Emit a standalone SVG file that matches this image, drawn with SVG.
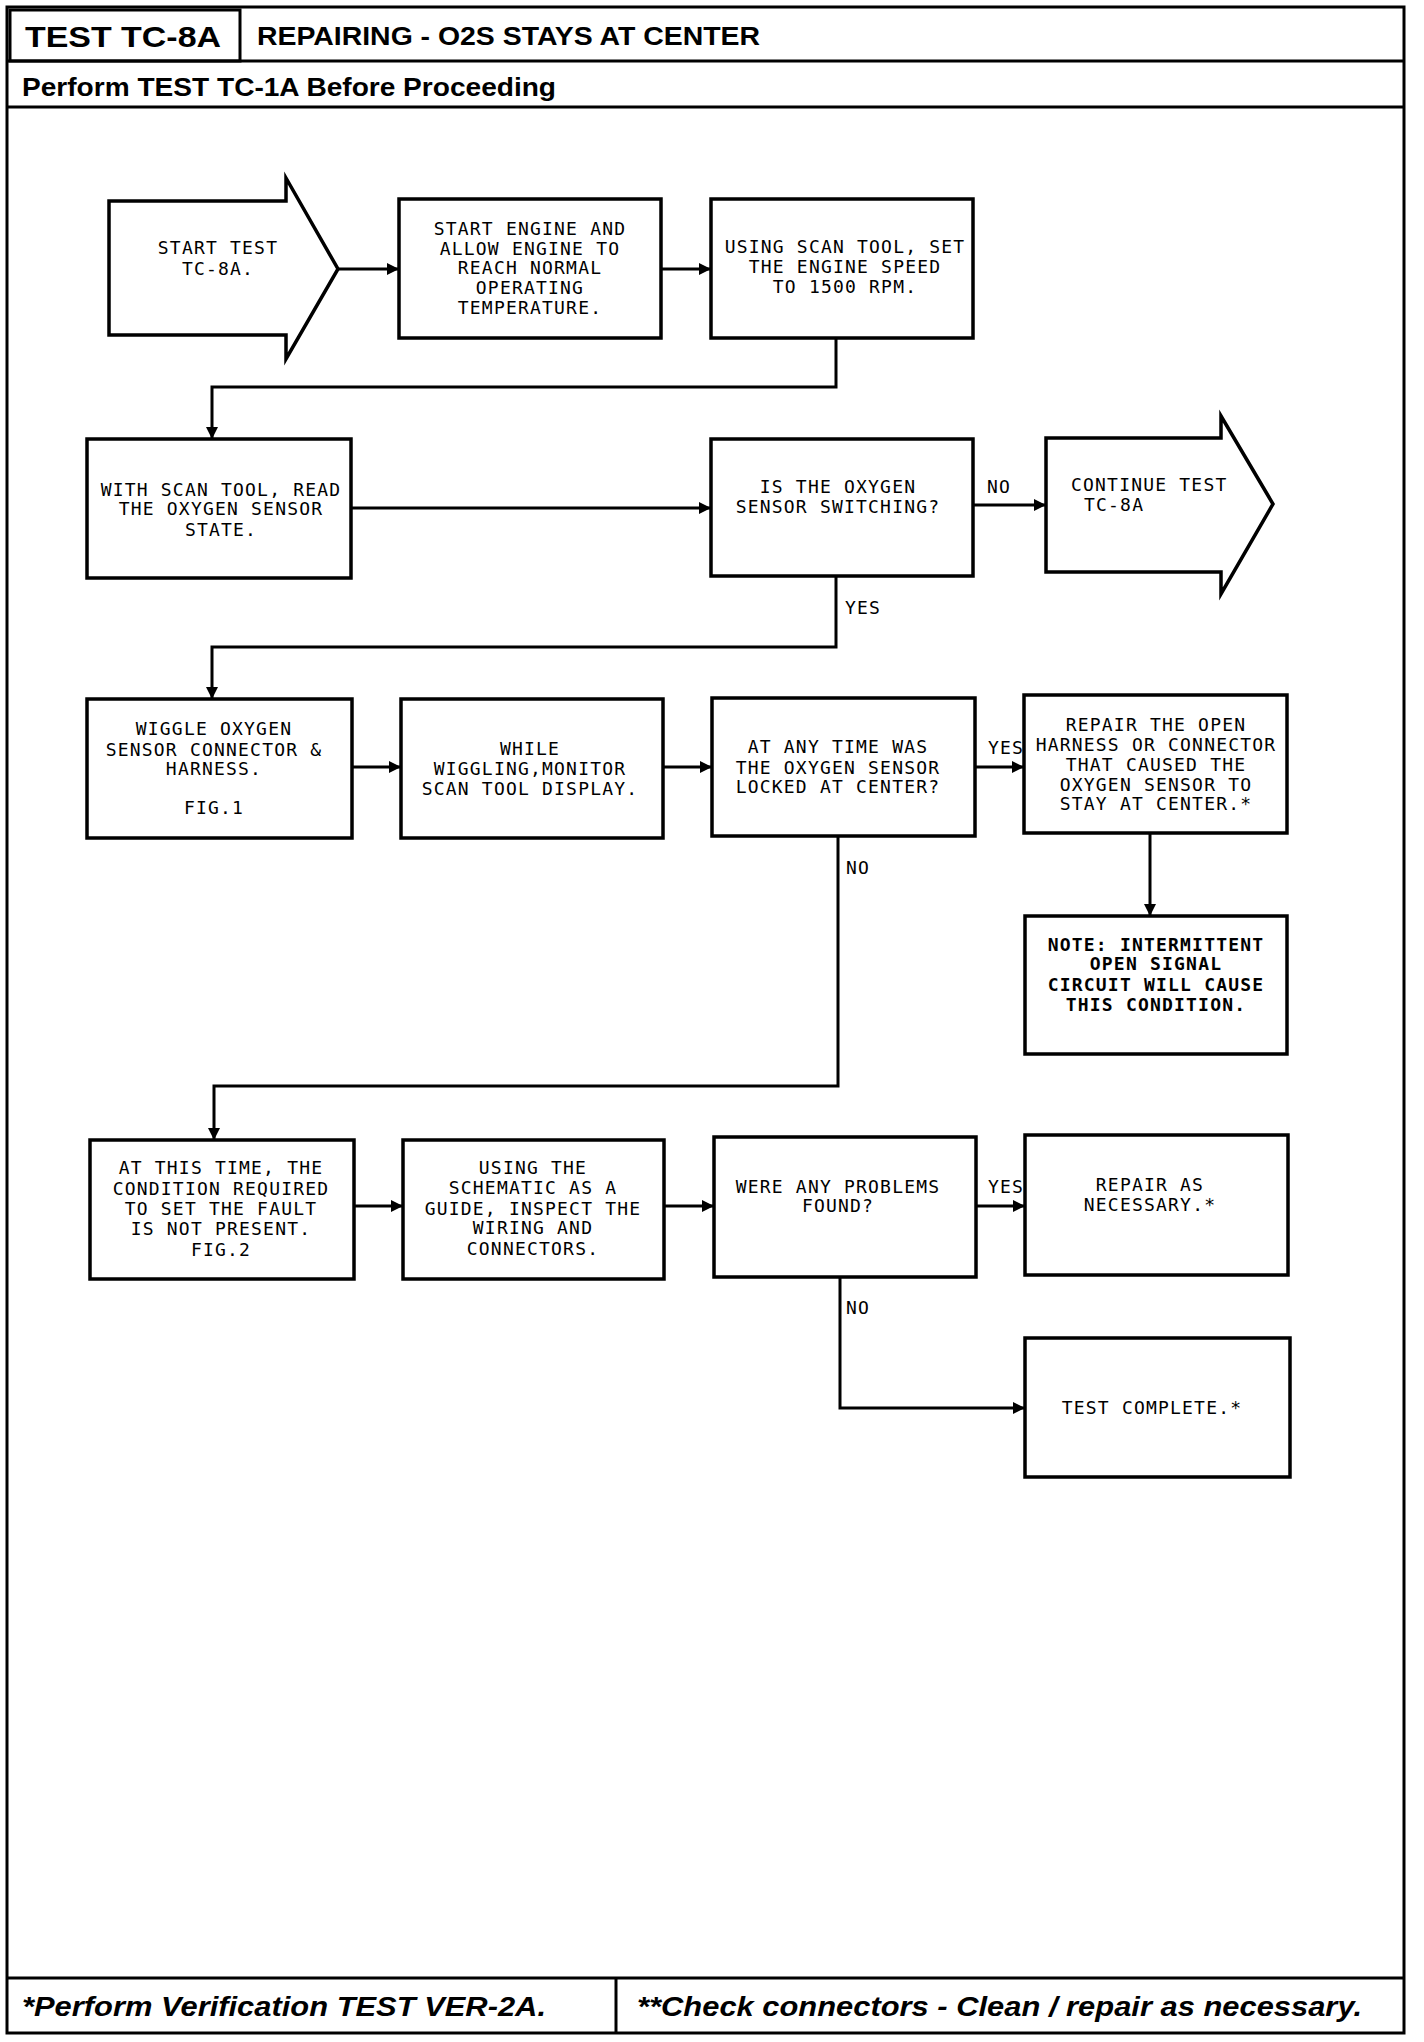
<svg xmlns="http://www.w3.org/2000/svg" width="1424" height="2042" viewBox="0 0 1424 2042">
<style>
.frame{fill:none;stroke:#000;stroke-width:3}
.box{fill:#fff;stroke:#000;stroke-width:3.5}
.con{fill:none;stroke:#000;stroke-width:3}
.t{font-family:"DejaVu Sans Mono","Liberation Mono",monospace;font-size:18px;letter-spacing:1.2px;fill:#000;text-anchor:middle}
.tb{font-family:"DejaVu Sans Mono","Liberation Mono",monospace;font-size:18px;letter-spacing:1.2px;font-weight:bold;fill:#000;text-anchor:middle}
.lbl{font-family:"DejaVu Sans Mono","Liberation Mono",monospace;font-size:18px;letter-spacing:1.2px;fill:#000}
.hd{font-family:"Liberation Sans",Arial,sans-serif;font-weight:bold;fill:#000}
.ft{font-family:"Liberation Sans",Arial,sans-serif;font-weight:bold;font-style:italic;fill:#000;font-size:27px}
</style>
<defs>
<marker id="ah" viewBox="0 0 10 10" refX="10" refY="5" markerWidth="4" markerHeight="4" orient="auto" markerUnits="strokeWidth">
<path d="M0,0 L10,5 L0,10 Z" fill="#000"/>
</marker>
</defs>
<rect width="1424" height="2042" fill="#fff"/>
<g id="frame">
<rect class="frame" x="7" y="7" width="1397" height="2026"/>
<rect class="frame" x="10" y="10" width="230" height="51"/>
<line class="frame" x1="7" y1="61" x2="1404" y2="61"/>
<line class="frame" x1="7" y1="107" x2="1404" y2="107"/>
<line class="frame" x1="7" y1="1978" x2="1404" y2="1978"/>
<line class="frame" x1="616" y1="1978" x2="616" y2="2033"/>
<text class="hd" x="25" y="47" font-size="30" textLength="196" lengthAdjust="spacingAndGlyphs">TEST TC-8A</text>
<text class="hd" x="257" y="45" font-size="25" textLength="503" lengthAdjust="spacingAndGlyphs">REPAIRING - O2S STAYS AT CENTER</text>
<text class="hd" x="22" y="96" font-size="25" textLength="534" lengthAdjust="spacingAndGlyphs">Perform TEST TC-1A Before Proceeding</text>
<text class="ft" x="22" y="2016" textLength="524" lengthAdjust="spacingAndGlyphs">*Perform Verification TEST VER-2A.</text>
<text class="ft" x="637" y="2016" textLength="725" lengthAdjust="spacingAndGlyphs">**Check connectors - Clean / repair as necessary.</text>
</g>
<g id="connectors">
<line class="con" x1="338" y1="269" x2="399" y2="269" marker-end="url(#ah)"/>
<line class="con" x1="661" y1="269" x2="711" y2="269" marker-end="url(#ah)"/>
<polyline class="con" points="836,338 836,387 212,387 212,439" marker-end="url(#ah)"/>
<line class="con" x1="351" y1="508" x2="711" y2="508" marker-end="url(#ah)"/>
<line class="con" x1="973" y1="505" x2="1046" y2="505" marker-end="url(#ah)"/>
<polyline class="con" points="836,576 836,647 212,647 212,699" marker-end="url(#ah)"/>
<line class="con" x1="352" y1="767" x2="401" y2="767" marker-end="url(#ah)"/>
<line class="con" x1="663" y1="767" x2="712" y2="767" marker-end="url(#ah)"/>
<line class="con" x1="975" y1="767" x2="1024" y2="767" marker-end="url(#ah)"/>
<line class="con" x1="1150" y1="833" x2="1150" y2="916" marker-end="url(#ah)"/>
<polyline class="con" points="838,836 838,1086 214,1086 214,1140" marker-end="url(#ah)"/>
<line class="con" x1="354" y1="1206" x2="403" y2="1206" marker-end="url(#ah)"/>
<line class="con" x1="664" y1="1206" x2="714" y2="1206" marker-end="url(#ah)"/>
<line class="con" x1="976" y1="1206" x2="1025" y2="1206" marker-end="url(#ah)"/>
<polyline class="con" points="840,1277 840,1408 1025,1408" marker-end="url(#ah)"/>
<text class="lbl" x="987" y="493">NO</text>
<text class="lbl" x="845" y="614">YES</text>
<text class="lbl" x="988" y="754">YES</text>
<text class="lbl" x="846" y="874">NO</text>
<text class="lbl" x="988" y="1193">YES</text>
<text class="lbl" x="846" y="1314">NO</text>
</g>
<g id="n1">
<polygon class="box" points="109,201 286,201 286,178 338,269 286,359 286,335 109,335"/>
<text class="t" x="218" y="254">START TEST</text>
<text class="t" x="218" y="275">TC-8A.</text>
</g>
<g id="n2">
<rect class="box" x="399" y="199" width="262" height="139"/>
<text class="t" x="530" y="235">START ENGINE AND</text>
<text class="t" x="530" y="255">ALLOW ENGINE TO</text>
<text class="t" x="530" y="274">REACH NORMAL</text>
<text class="t" x="530" y="294">OPERATING</text>
<text class="t" x="530" y="314">TEMPERATURE.</text>
</g>
<g id="n3">
<rect class="box" x="711" y="199" width="262" height="139"/>
<text class="t" x="845" y="253">USING SCAN TOOL, SET</text>
<text class="t" x="845" y="273">THE ENGINE SPEED</text>
<text class="t" x="845" y="293">TO 1500 RPM.</text>
</g>
<g id="n4">
<rect class="box" x="87" y="439" width="264" height="139"/>
<text class="t" x="221" y="496">WITH SCAN TOOL, READ</text>
<text class="t" x="221" y="515">THE OXYGEN SENSOR</text>
<text class="t" x="221" y="536">STATE.</text>
</g>
<g id="n5">
<rect class="box" x="711" y="439" width="262" height="137"/>
<text class="t" x="838" y="493">IS THE OXYGEN</text>
<text class="t" x="838" y="513">SENSOR SWITCHING?</text>
</g>
<g id="n6">
<polygon class="box" points="1046,438 1221,438 1221,416 1273,504 1221,594 1221,572 1046,572"/>
<text class="lbl" x="1071" y="491">CONTINUE TEST</text>
<text class="lbl" x="1084" y="511">TC-8A</text>
</g>
<g id="n7">
<rect class="box" x="87" y="699" width="265" height="139"/>
<text class="t" x="214" y="735">WIGGLE OXYGEN</text>
<text class="t" x="214" y="756">SENSOR CONNECTOR &amp;</text>
<text class="t" x="214" y="775">HARNESS.</text>
<text class="t" x="214" y="814">FIG.1</text>
</g>
<g id="n8">
<rect class="box" x="401" y="699" width="262" height="139"/>
<text class="t" x="530" y="755">WHILE</text>
<text class="t" x="530" y="775">WIGGLING,MONITOR</text>
<text class="t" x="530" y="795">SCAN TOOL DISPLAY.</text>
</g>
<g id="n9">
<rect class="box" x="712" y="698" width="263" height="138"/>
<text class="t" x="838" y="753">AT ANY TIME WAS</text>
<text class="t" x="838" y="774">THE OXYGEN SENSOR</text>
<text class="t" x="838" y="793">LOCKED AT CENTER?</text>
</g>
<g id="n10">
<rect class="box" x="1024" y="695" width="263" height="138"/>
<text class="t" x="1156" y="731">REPAIR THE OPEN</text>
<text class="t" x="1156" y="751">HARNESS OR CONNECTOR</text>
<text class="t" x="1156" y="771">THAT CAUSED THE</text>
<text class="t" x="1156" y="791">OXYGEN SENSOR TO</text>
<text class="t" x="1156" y="810">STAY AT CENTER.*</text>
</g>
<g id="n11">
<rect class="box" x="1025" y="916" width="262" height="138"/>
<text class="tb" x="1156" y="951">NOTE: INTERMITTENT</text>
<text class="tb" x="1156" y="970">OPEN SIGNAL</text>
<text class="tb" x="1156" y="991">CIRCUIT WILL CAUSE</text>
<text class="tb" x="1156" y="1011">THIS CONDITION.</text>
</g>
<g id="n12">
<rect class="box" x="90" y="1140" width="264" height="139"/>
<text class="t" x="221" y="1174">AT THIS TIME, THE</text>
<text class="t" x="221" y="1195">CONDITION REQUIRED</text>
<text class="t" x="221" y="1215">TO SET THE FAULT</text>
<text class="t" x="221" y="1235">IS NOT PRESENT.</text>
<text class="t" x="221" y="1256">FIG.2</text>
</g>
<g id="n13">
<rect class="box" x="403" y="1140" width="261" height="139"/>
<text class="t" x="533" y="1174">USING THE</text>
<text class="t" x="533" y="1194">SCHEMATIC AS A</text>
<text class="t" x="533" y="1215">GUIDE, INSPECT THE</text>
<text class="t" x="533" y="1234">WIRING AND</text>
<text class="t" x="533" y="1255">CONNECTORS.</text>
</g>
<g id="n14">
<rect class="box" x="714" y="1137" width="262" height="140"/>
<text class="t" x="838" y="1193">WERE ANY PROBLEMS</text>
<text class="t" x="838" y="1212">FOUND?</text>
</g>
<g id="n15">
<rect class="box" x="1025" y="1135" width="263" height="140"/>
<text class="t" x="1150" y="1191">REPAIR AS</text>
<text class="t" x="1150" y="1211">NECESSARY.*</text>
</g>
<g id="n16">
<rect class="box" x="1025" y="1338" width="265" height="139"/>
<text class="t" x="1152" y="1414">TEST COMPLETE.*</text>
</g>
</svg>
